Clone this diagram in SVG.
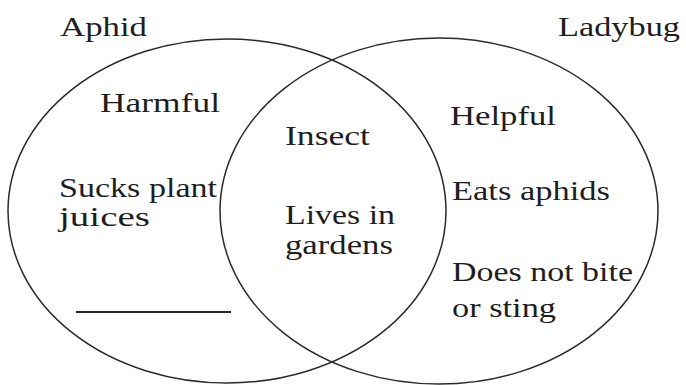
<svg xmlns="http://www.w3.org/2000/svg" width="686" height="385" viewBox="0 0 686 385">
<style>
.c{fill:none;stroke:#2a2a2a;stroke-width:1.5}
.t{font-family:"Liberation Serif","Times New Roman",serif;font-size:27px;fill:#1e1e1e}
</style>
<rect width="686" height="385" fill="#fff"/>
<g id="aphid">
<ellipse class="c" cx="227" cy="211" rx="219" ry="172"/>
<text class="t" x="60" y="36" textLength="87" lengthAdjust="spacingAndGlyphs">Aphid</text>
<text class="t" x="100" y="112" textLength="120" lengthAdjust="spacingAndGlyphs">Harmful</text>
<text class="t" x="59" y="197" textLength="158" lengthAdjust="spacingAndGlyphs">Sucks plant</text>
<text class="t" x="59" y="226" textLength="91" lengthAdjust="spacingAndGlyphs">juices</text>
<line x1="76" y1="312" x2="231" y2="312" stroke="#2a2a2a" stroke-width="1.8"/>
</g>
<g id="ladybug">
<ellipse class="c" cx="439" cy="211" rx="219" ry="173"/>
<text class="t" x="558" y="36" textLength="122" lengthAdjust="spacingAndGlyphs">Ladybug</text>
<text class="t" x="450" y="125" textLength="106" lengthAdjust="spacingAndGlyphs">Helpful</text>
<text class="t" x="452" y="200" textLength="158" lengthAdjust="spacingAndGlyphs">Eats aphids</text>
<text class="t" x="452" y="281" textLength="181" lengthAdjust="spacingAndGlyphs">Does not bite</text>
<text class="t" x="452" y="317" textLength="104" lengthAdjust="spacingAndGlyphs">or sting</text>
</g>
<g id="both">
<text class="t" x="285" y="145" textLength="85" lengthAdjust="spacingAndGlyphs">Insect</text>
<text class="t" x="285" y="224" textLength="110" lengthAdjust="spacingAndGlyphs">Lives in</text>
<text class="t" x="285" y="254" textLength="108" lengthAdjust="spacingAndGlyphs">gardens</text>
</g>
<g id="connectors"></g>
</svg>
